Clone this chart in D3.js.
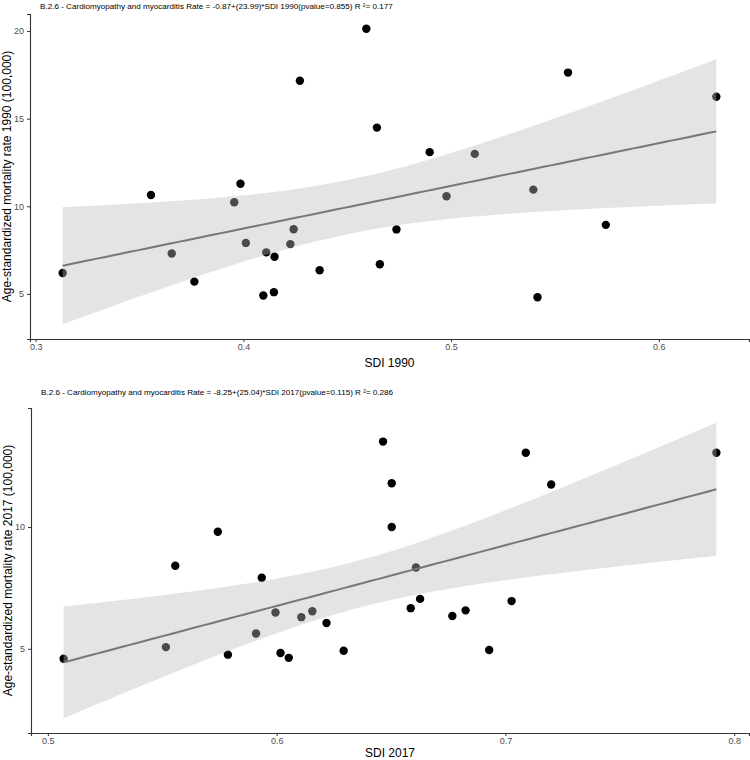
<!DOCTYPE html>
<html>
<head>
<meta charset="utf-8">
<script src="https://cdn.jsdelivr.net/npm/d3@7"></script>
<style>
  body { margin: 0; background: #fff; }
  svg { display: block; font-family: "Liberation Sans", Arial, sans-serif; }
</style>
</head>
<body>
<svg id="chart" width="750" height="760"></svg>
<script>
// ---- Data ----
const sdi1990 = [0.313, 0.3555, 0.3655, 0.3764, 0.3956, 0.3986, 0.4012, 0.4096, 0.411, 0.4147,
  0.415, 0.4226, 0.4242, 0.4272, 0.4367, 0.4592, 0.4643, 0.4657, 0.4737, 0.4897,
  0.4978, 0.5114, 0.5396, 0.5416, 0.5563, 0.5745, 0.6277];
const rate1990 = [6.19, 10.64, 7.31, 5.70, 10.23, 11.29, 7.91, 4.91, 7.37, 5.10,
  7.12, 7.84, 8.69, 17.16, 6.35, 20.13, 14.49, 6.69, 8.68, 13.09,
  10.57, 12.99, 10.95, 4.81, 17.63, 8.94, 16.25];

const sdi2017 = [0.5069, 0.5557, 0.5516, 0.5743, 0.5787, 0.5935, 0.591, 0.5995, 0.6017, 0.6053,
  0.6108, 0.6156, 0.6218, 0.6293, 0.6465, 0.6503, 0.6503, 0.6609, 0.6627, 0.6586,
  0.6768, 0.6826, 0.6929, 0.7027, 0.7089, 0.72, 0.7922];
const rate2017 = [4.59, 8.41, 5.07, 9.81, 4.76, 7.92, 5.63, 6.49, 4.83, 4.63,
  6.30, 6.54, 6.06, 4.92, 13.51, 11.80, 10.0, 8.34, 7.05, 6.67,
  6.35, 6.58, 4.95, 6.96, 13.05, 11.75, 13.05];

const titles = [
  "B.2.6 - Cardiomyopathy and myocarditis Rate = -0.87+(23.99)*SDI 1990(pvalue=0.855) R \u00b2= 0.177",
  "B.2.6 - Cardiomyopathy and myocarditis Rate = -8.25+(25.04)*SDI 2017(pvalue=0.115) R \u00b2= 0.286"
];
const xTitles = ["SDI 1990", "SDI 2017"];
const yTitles = ["Age-standardized mortality rate 1990 (100,000)", "Age-standardized mortality rate 2017 (100,000)"];
const xTicks1990 = [0.3, 0.4, 0.5, 0.6];
const yTicks1990 = [5, 10, 15, 20];
const xTicks2017 = [0.5, 0.6, 0.7, 0.8];
const yTicks2017 = [5, 10];

// ---- helpers ----
function linfit(xs, ys) {
  const n = xs.length;
  const mx = d3.mean(xs), my = d3.mean(ys);
  let sxx = 0, sxy = 0;
  for (let i = 0; i < n; i++) { sxx += (xs[i]-mx)**2; sxy += (xs[i]-mx)*(ys[i]-my); }
  const b = sxy / sxx, a = my - b * mx;
  let sse = 0;
  for (let i = 0; i < n; i++) sse += (ys[i] - a - b*xs[i])**2;
  const s = Math.sqrt(sse / (n - 2));
  return {a, b, s, mx, sxx, n};
}
// t quantile 0.975 for df = 25
const tq = 2.059539;

const svg = d3.select("#chart");

function panel(cfg) {
  const {xs, ys, title, xTitle, yTitle, xTicks, yTicks, box} = cfg;
  const fit = linfit(xs, ys);
  const xmin = d3.min(xs), xmax = d3.max(xs);
  const grid = d3.range(80).map(i => xmin + (xmax - xmin) * i / 79);
  const band = grid.map(x => {
    const yhat = fit.a + fit.b * x;
    const se = fit.s * Math.sqrt(1/fit.n + (x - fit.mx)**2 / fit.sxx);
    return {x, y: yhat, lo: yhat - tq*se, hi: yhat + tq*se};
  });
  const ylo = Math.min(d3.min(ys), d3.min(band, d => d.lo));
  const yhi = Math.max(d3.max(ys), d3.max(band, d => d.hi));
  const xpad = (xmax - xmin) * 0.05, ypad = (yhi - ylo) * 0.05;

  const x = d3.scaleLinear().domain([xmin - xpad, xmax + xpad]).range([box.left, box.right]);
  const y = d3.scaleLinear().domain([ylo - ypad, yhi + ypad]).range([box.bottom, box.top]);

  const g = svg.append("g");

  // points
  g.append("g").selectAll("circle").data(xs).join("circle")
    .attr("cx", (d, i) => x(xs[i])).attr("cy", (d, i) => y(ys[i]))
    .attr("r", 4.2).attr("fill", "#000");

  // ribbon
  g.append("path").datum(band)
    .attr("d", d3.area().x(d => x(d.x)).y0(d => y(d.lo)).y1(d => y(d.hi)))
    .attr("fill", "#bbbbbb").attr("fill-opacity", 0.4);

  // regression line
  g.append("path").datum(band)
    .attr("d", d3.line().x(d => x(d.x)).y(d => y(d.y)))
    .attr("fill", "none").attr("stroke", "#777777").attr("stroke-width", 2);

  // axes
  const xAxis = d3.axisBottom(x).tickValues(xTicks).tickSize(3).tickPadding(2).tickFormat(d3.format(".1f"));
  const yAxis = d3.axisLeft(y).tickValues(yTicks).tickSize(3).tickPadding(3).tickFormat(d3.format("d"));
  const gx = g.append("g").attr("transform", `translate(0,${box.bottom})`).call(xAxis);
  const gy = g.append("g").attr("transform", `translate(${box.left},0)`).call(yAxis);
  [gx, gy].forEach(a => {
    a.select(".domain").attr("stroke", "#333").attr("stroke-width", 1.1);
    a.selectAll(".tick line").attr("stroke", "#333");
    a.selectAll(".tick text").attr("fill", "#4d4d4d").style("font-size", "9px");
  });

  // titles
  g.append("text").attr("x", box.left + 10).attr("y", cfg.titleY)
    .attr("font-size", 8.1).attr("fill", "#000").text(title);
  g.append("text").attr("x", (box.left + box.right) / 2).attr("y", box.bottom + cfg.xTitleOff)
    .attr("text-anchor", "middle").attr("font-size", 12).attr("fill", "#000").text(xTitle);
  g.append("text")
    .attr("transform", `translate(${box.left - 19},${(box.top + box.bottom) / 2}) rotate(-90)`)
    .attr("text-anchor", "middle").attr("font-size", 12).attr("fill", "#000").text(yTitle);
}

panel({xs: sdi1990, ys: rate1990, title: titles[0], xTitle: xTitles[0], yTitle: yTitles[0],
  xTicks: xTicks1990, yTicks: yTicks1990, titleY: 9, xTitleOff: 28,
  box: {left: 30, right: 749, top: 14, bottom: 339}});
panel({xs: sdi2017, ys: rate2017, title: titles[1], xTitle: xTitles[1], yTitle: yTitles[1],
  xTicks: xTicks2017, yTicks: yTicks2017, titleY: 395, xTitleOff: 24,
  box: {left: 31, right: 749, top: 408, bottom: 733}});
</script>
</body>
</html>
